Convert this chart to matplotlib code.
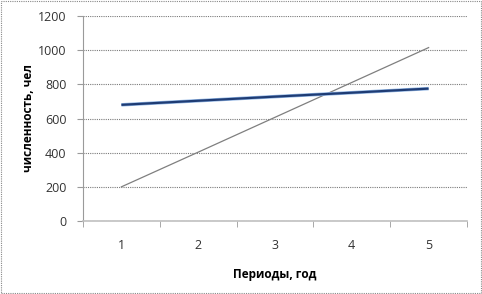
import matplotlib
matplotlib.use("Agg")
import matplotlib.pyplot as plt
from matplotlib.patches import Rectangle

periods = ["1", "2", "3", "4", "5"]
series_blue = [680, 704, 728, 751, 775]
series_gray = [200, 403, 607, 811, 1015]
y_ticks = [0, 200, 400, 600, 800, 1000, 1200]

plt.rcParams['font.family'] = ['Open Sans', 'DejaVu Sans']

fig = plt.figure(figsize=(4.82, 2.94), dpi=100)
ax = fig.add_axes([83/482, 1-221/294, 384/482, 205/294])

x = list(range(len(periods)))
ax.plot(x, series_gray, color='#7f7f7f', lw=0.9, zorder=3)
ax.plot(x, series_blue, color='#8fb4e3', lw=2.5, zorder=4, solid_capstyle='butt')
ax.plot(x, series_blue, color='#1f3c74', lw=1.6, zorder=5, solid_capstyle='butt')

ax.set_xlim(-0.5, len(periods) - 0.5)
ax.set_ylim(0, 1200)
ax.set_yticks(y_ticks)
ax.set_yticklabels([str(v) for v in y_ticks])
ax.set_xticks(x)
ax.set_xticklabels(periods)
ax.set_xticks([i - 0.5 for i in range(len(periods) + 1)], minor=True)

ax.grid(axis='y', color='#7a7a7a', linestyle=(0, (1, 1)), lw=0.8)
for s in ['top', 'right']:
    ax.spines[s].set_visible(False)
ax.spines['left'].set_color('#9a9a9a')
ax.spines['bottom'].set_color('#c0c0c0')
ax.spines['bottom'].set_linewidth(1.2)

ax.tick_params(axis='y', length=4, color='#9a9a9a', pad=8, labelsize=9, labelcolor='#333333')
ax.tick_params(axis='x', which='major', length=0, pad=13, labelsize=9, labelcolor='#333333')
ax.tick_params(axis='x', which='minor', length=4, color='#9a9a9a')

ax.set_ylabel("численность, чел", fontsize=8.5, fontweight='bold')
ax.yaxis.set_label_coords(-0.125, 0.5)
ax.set_xlabel("Периоды, год", fontsize=8.5, fontweight='bold')
ax.xaxis.set_label_coords(0.5, -0.229)

fig.patches.append(Rectangle((0.002, 0.003), 0.996, 0.994, transform=fig.transFigure,
                             fill=False, edgecolor='#888888', linestyle=(0, (1, 1)), lw=0.8))

fig.savefig("out.png", dpi=100)
